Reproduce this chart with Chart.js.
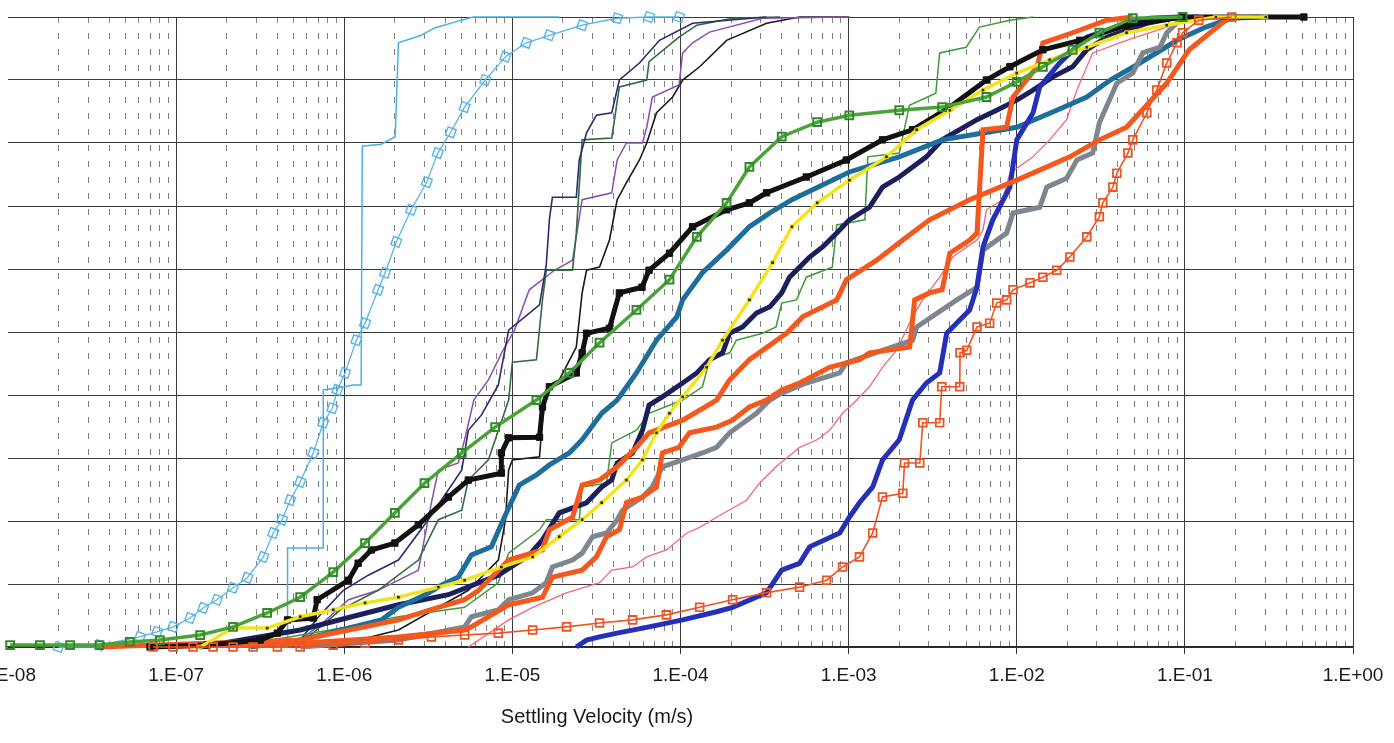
<!DOCTYPE html>
<html>
<head>
<meta charset="utf-8">
<script src="https://cdn.jsdelivr.net/npm/chart.js@4.4.1/dist/chart.umd.min.js"></script>
<style>
  html, body { margin: 0; padding: 0; background: #fff; overflow: hidden; }
  #wrap { position: relative; width: 1394px; height: 743px; }
</style>
</head>
<body>
<div id="wrap"><canvas id="settlingChart"></canvas></div>
<script>
// Settling velocity distributions: [velocity (m/s), cumulative %]
const velocityDecades = [-8, -7, -6, -5, -4, -3, -2, -1, 0];
const minorSteps = [2, 3, 4, 5, 6, 7, 8, 9];
const axisTitleText = 'Settling Velocity (m/s)';

const skyBlueStep = [[2.0e-8,0],[4.6e-7,0],[4.6e-7,15.7],[7.5e-7,15.7],[7.5e-7,40.8],[1.0e-6,41.3],[1.13e-6,41.6],[1.26e-6,41.6],[1.28e-6,79.5],[1.66e-6,79.8],[2.01e-6,81.0],[2.1e-6,95.9],[2.87e-6,97.1],[3.48e-6,98.3],[4.97e-6,99.5],[5.85e-6,100],[1.9e-5,100]];

const skyBlueSquares = [[2.0e-8,0],[3.5e-8,0.3],[6.1e-8,1.6],[7.7e-8,2.4],[9.6e-8,3.2],[1.21e-7,4.6],[1.45e-7,6.2],[1.75e-7,7.5],[2.18e-7,9.4],[2.65e-7,11.0],[3.3e-7,14.3],[3.78e-7,18.1],[4.27e-7,20.2],[4.77e-7,23.3],[5.47e-7,26.2],[6.54e-7,30.8],[7.5e-7,35.6],[8.5e-7,37.9],[9.1e-7,40.8],[1.01e-6,43.5],[1.18e-6,48.7],[1.33e-6,51.4],[1.59e-6,56.7],[1.75e-6,59.4],[2.04e-6,64.3],[2.5e-6,69.4],[3.1e-6,73.8],[3.6e-6,78.4],[4.3e-6,81.7],[5.2e-6,85.7],[6.9e-6,90.0],[9.1e-6,93.7],[1.21e-5,95.9],[1.66e-5,97.1],[2.6e-5,98.7],[4.2e-5,99.8],[6.5e-5,100],[9.8e-5,100]];

const greenSquares = [[1.03e-8,0.3],[1.55e-8,0.3],[2.34e-8,0.3],[3.5e-8,0.3],[5.3e-8,0.8],[8.0e-8,1.1],[1.39e-7,1.9],[2.18e-7,3.2],[3.48e-7,5.4],[5.47e-7,7.9],[8.6e-7,11.9],[1.33e-6,16.5],[2.0e-6,21.3],[3.0e-6,26.0],[5.0e-6,30.8],[7.9e-6,34.9],[1.39e-5,39.2],[2.18e-5,43.5],[3.3e-5,48.3],[5.47e-5,53.5],[8.6e-5,58.3],[1.25e-4,65.1],[1.88e-4,70.5],[2.57e-4,76.2],[4.0e-4,81.0],[6.5e-4,83.3],[1.01e-3,84.4],[2.0e-3,85.2],[3.6e-3,85.7],[6.6e-3,87.3],[1.0e-2,89.7],[1.43e-2,92.1],[2.15e-2,94.8],[3.1e-2,97.5],[4.9e-2,99.8],[9.7e-2,100]];

const blackSquares = [[7.0e-8,0],[1.53e-7,0.3],[3.16e-7,1.1],[4.0e-7,2.2],[4.6e-7,4.3],[6.54e-7,4.6],[6.9e-7,7.5],[1.06e-6,10.6],[1.21e-6,13.3],[1.45e-6,15.4],[2.0e-6,16.5],[2.76e-6,19.4],[4.16e-6,23.8],[5.47e-6,26.5],[8.6e-6,27.6],[8.6e-6,30.8],[9.5e-6,33.2],[1.45e-5,33.3],[1.51e-5,38.1],[1.66e-5,41.3],[2.4e-5,43.5],[2.6e-5,46.7],[2.76e-5,49.8],[3.78e-5,50.6],[4.33e-5,56.2],[5.9e-5,57.1],[6.5e-5,59.8],[8.6e-5,62.5],[1.18e-4,66.7],[1.88e-4,69.4],[2.57e-4,70.5],[3.25e-4,72.1],[5.6e-4,74.6],[9.7e-4,77.3],[1.59e-3,80.5],[2.4e-3,82.1],[4.0e-3,85.7],[6.6e-3,90.0],[9.1e-3,92.1],[1.43e-2,94.8],[2.37e-2,96.3],[4.5e-2,98.7],[9.7e-2,100],[0.51,100]];

const navyThin = [[3.63e-7,0],[5.47e-7,1.1],[7.2e-7,5.1],[9.9e-7,9.0],[1.39e-6,11.4],[2.1e-6,13.8],[3.16e-6,20.2],[5.0e-6,28.1],[5.47e-6,34.4],[6.54e-6,36.8],[8.25e-6,41.6],[9.5e-6,50.3],[1.45e-5,54.3],[1.59e-5,60.6],[1.66e-5,67.8],[1.73e-5,71.4],[2.4e-5,71.4],[2.5e-5,77.3],[2.76e-5,81.6],[3.16e-5,84.4],[3.9e-5,84.8],[4.33e-5,90.0],[5.7e-5,92.7],[7.5e-5,96.3],[1.18e-4,99.0],[3.25e-4,100]];

const darkGreenThin = [[4.16e-7,0],[6.3e-7,1.9],[9.5e-7,5.9],[1.59e-6,9.0],[2.76e-6,13.8],[3.63e-6,20.2],[5.0e-6,21.7],[5.47e-6,26.5],[7.2e-6,29.7],[9.5e-6,39.2],[1.0e-5,45.2],[1.39e-5,45.6],[1.51e-5,55.1],[1.59e-5,59.8],[2.28e-5,59.8],[2.4e-5,65.7],[2.6e-5,80.5],[3.9e-5,80.8],[4.33e-5,88.9],[6.3e-5,90.0],[6.5e-5,92.9],[9.8e-5,96.8],[1.25e-4,98.7],[2.04e-4,99.8],[3.9e-4,100]];

const violetThin = [[4.77e-7,0],[7.2e-7,3.5],[1.06e-6,7.5],[1.59e-6,9.0],[2.76e-6,12.2],[3.3e-6,22.9],[3.63e-6,28.1],[4.77e-6,29.2],[5.2e-6,32.9],[5.9e-6,39.2],[7.2e-6,42.4],[8.8e-6,47.1],[1.03e-5,50.3],[1.26e-5,56.7],[1.78e-5,59.8],[2.28e-5,61.4],[2.6e-5,71.0],[3.9e-5,72.1],[4.2e-5,77.3],[4.77e-5,80.0],[5.94e-5,80.0],[6.3e-5,82.5],[6.8e-5,87.3],[9.8e-5,89.2],[1.03e-4,94.3],[1.18e-4,95.9],[1.49e-4,97.6],[3.08e-4,99.8],[1.01e-3,100]];

const blackThin = [[8.25e-7,0],[2.1e-6,2.7],[5.47e-6,9.0],[8.25e-6,13.8],[9.1e-6,20.2],[9.5e-6,28.1],[1.0e-5,29.7],[1.45e-5,30.2],[1.51e-5,36.0],[1.59e-5,40.8],[1.9e-5,42.4],[2.4e-5,47.6],[2.6e-5,56.2],[2.76e-5,59.8],[3.3e-5,60.3],[3.78e-5,64.6],[4.2e-5,71.0],[4.77e-5,73.7],[5.7e-5,77.3],[6.3e-5,80.0],[7.2e-5,84.8],[8.98e-5,87.3],[1.03e-4,90.0],[1.3e-4,92.1],[1.88e-4,96.3],[3.25e-4,99.0],[5.11e-4,100],[1.01e-3,100]];

const steelBlue = [[2.76e-7,0],[5.47e-7,1.1],[1.06e-6,3.0],[1.66e-6,4.3],[2.1e-6,6.3],[3.03e-6,8.3],[3.78e-6,9.8],[4.77e-6,11.1],[5.7e-6,14.6],[7.5e-6,15.9],[9.1e-6,21.0],[1.1e-5,25.7],[1.39e-5,27.3],[1.66e-5,28.9],[2.18e-5,30.8],[2.6e-5,32.9],[3.4e-5,37.1],[4.2e-5,39.2],[5.47e-5,43.5],[7.2e-5,48.7],[9.5e-5,52.4],[1.03e-4,55.1],[1.35e-4,59.4],[1.88e-4,63.0],[2.57e-4,66.7],[3.4e-4,68.9],[4.6e-4,71.0],[1.01e-3,75.4],[2.0e-3,77.8],[3.6e-3,80.5],[6.3e-3,81.6],[1.0e-2,82.5],[1.73e-2,85.2],[2.61e-2,87.3],[3.6e-2,90.0],[5.4e-2,92.7],[8.98e-2,96.3],[0.133,98.4],[0.19,99.8],[0.276,100]];

const yellowDotted = [[1.39e-7,0],[2.18e-7,3.0],[3.48e-7,3.0],[5.47e-7,4.8],[8.6e-7,5.9],[1.33e-6,7.0],[2.1e-6,7.9],[3.63e-6,9.5],[5.2e-6,10.6],[8.6e-6,12.7],[1.32e-5,14.3],[1.9e-5,17.5],[2.6e-5,20.2],[3.4e-5,22.9],[4.77e-5,26.5],[5.94e-5,29.7],[7.2e-5,34.0],[8.6e-5,37.1],[1.03e-4,39.7],[1.43e-4,44.4],[1.78e-4,48.7],[2.57e-4,55.1],[3.53e-4,61.0],[4.6e-4,66.7],[6.5e-4,70.5],[1.01e-3,74.1],[1.68e-3,77.8],[2.54e-3,82.1],[4.0e-3,85.2],[6.3e-3,88.4],[1.0e-2,91.1],[1.57e-2,93.2],[2.61e-2,95.2],[4.5e-2,97.5],[7.8e-2,98.7],[0.153,100],[0.303,100]];

const navyThick = [[1.39e-7,0],[5.47e-7,2.7],[2.1e-6,6.7],[4.16e-6,8.3],[8.25e-6,11.4],[1.26e-5,14.6],[1.51e-5,17.0],[1.9e-5,21.3],[2.76e-5,22.9],[3.4e-5,25.4],[3.9e-5,26.5],[4.2e-5,29.2],[5.19e-5,30.8],[5.94e-5,34.4],[6.5e-5,38.4],[7.8e-5,39.7],[1.03e-4,41.9],[1.25e-4,43.5],[1.49e-4,45.6],[1.78e-4,46.7],[1.96e-4,49.8],[2.34e-4,50.8],[2.83e-4,53.0],[3.4e-4,54.0],[4.0e-4,56.2],[4.45e-4,58.7],[5.11e-4,60.3],[5.86e-4,61.9],[7.0e-4,63.5],[8.5e-4,65.7],[1.01e-3,67.8],[1.33e-3,69.8],[1.59e-3,73.0],[2.0e-3,74.6],[2.9e-3,77.8],[3.6e-3,80.5],[5.8e-3,83.7],[7.6e-3,85.2],[1.0e-2,86.8],[1.25e-2,88.4],[1.64e-2,90.5],[2.15e-2,92.1],[2.61e-2,94.8],[3.43e-2,96.8],[4.5e-2,97.9],[5.94e-2,99.0],[8.5e-2,99.8],[0.121,100]];

const greenThin = [[2.1e-7,0],[8.25e-7,2.7],[2.1e-6,4.8],[5.2e-6,6.3],[8.25e-6,10.2],[9.5e-6,14.9],[1.45e-5,18.6],[1.59e-5,20.2],[2.5e-5,20.2],[2.6e-5,25.4],[3.63e-5,26.0],[3.9e-5,32.4],[5.47e-5,34.4],[6.5e-5,37.1],[1.03e-4,39.2],[1.35e-4,41.3],[1.49e-4,45.6],[1.96e-4,46.7],[2.15e-4,48.7],[3.08e-4,49.8],[3.7e-4,50.8],[4.0e-4,54.6],[4.9e-4,55.1],[5.6e-4,58.7],[8.0e-4,60.3],[8.5e-4,67.0],[1.25e-3,67.8],[1.3e-3,77.8],[2.0e-3,78.4],[2.3e-3,86.0],[3.3e-3,87.9],[3.48e-3,94.3],[5.0e-3,95.2],[6.0e-3,98.4],[9.1e-3,99.5],[1.25e-2,100]];

const orangeUpper = [[3.5e-8,0],[5.47e-7,1.1],[2.1e-6,4.3],[3.63e-6,6.3],[5.2e-6,7.5],[6.3e-6,9.0],[9.5e-6,13.8],[1.51e-5,15.4],[1.66e-5,18.6],[2.28e-5,20.6],[2.6e-5,25.7],[3.3e-5,26.5],[4.2e-5,28.6],[5.47e-5,31.7],[6.5e-5,34.0],[1.03e-4,36.0],[1.64e-4,39.2],[1.96e-4,42.4],[2.57e-4,45.6],[4.27e-4,49.8],[5.33e-4,52.4],[8.5e-4,55.1],[9.7e-4,58.3],[1.47e-3,61.4],[2.1e-3,64.6],[3.03e-3,67.8],[5.25e-3,71.0],[1.0e-2,74.1],[2.07e-2,77.8],[3.1e-2,80.5],[4.5e-2,82.5],[7.8e-2,89.5],[0.106,94.8],[0.175,99.5],[0.21,100]];

const orangeLower = [[7.0e-8,0],[5.47e-7,0.6],[2.1e-6,1.6],[5.2e-6,2.7],[5.7e-6,3.2],[9.5e-6,6.7],[1.51e-5,7.9],[1.73e-5,11.1],[2.6e-5,12.2],[3.16e-5,14.3],[3.63e-5,17.5],[4.33e-5,18.6],[4.77e-5,22.9],[5.94e-5,23.8],[7.2e-5,25.4],[7.8e-5,30.8],[9.8e-5,31.7],[1.13e-4,34.0],[1.64e-4,34.9],[2.04e-4,36.0],[2.57e-4,38.1],[3.25e-4,39.2],[4.0e-4,40.8],[5.11e-4,41.9],[7.7e-4,44.4],[1.16e-3,45.6],[1.33e-3,46.7],[2.31e-3,47.6],[2.47e-3,55.1],[3.03e-3,56.2],[3.6e-3,56.7],[4.0e-3,62.5],[5.25e-3,64.6],[5.8e-3,65.7],[6.3e-3,82.1],[8.7e-3,82.5],[9.5e-3,87.3],[1.32e-2,92.1],[1.43e-2,95.9],[2.15e-2,97.5],[3.43e-2,99.5],[4.9e-2,100]];

const greyThick = [[5.47e-7,0],[2.1e-6,1.1],[5.2e-6,3.2],[5.7e-6,4.8],[8.25e-6,5.9],[9.5e-6,7.5],[1.32e-5,8.6],[1.59e-5,10.2],[1.73e-5,12.7],[2.28e-5,13.8],[2.6e-5,14.9],[3.0e-5,17.5],[3.63e-5,18.1],[4.2e-5,20.2],[4.52e-5,21.7],[5.94e-5,23.8],[6.8e-5,25.4],[7.8e-5,28.6],[1.03e-4,29.7],[1.35e-4,30.8],[1.64e-4,31.7],[1.96e-4,34.0],[2.83e-4,37.1],[3.4e-4,39.2],[4.0e-4,40.3],[5.6e-4,41.9],[8.84e-4,43.5],[9.7e-4,45.1],[1.59e-3,47.1],[2.4e-3,48.7],[2.54e-3,50.8],[4.4e-3,55.1],[5.8e-3,57.1],[6.3e-3,63.0],[8.7e-3,65.7],[9.5e-3,68.9],[1.37e-2,69.8],[1.51e-2,73.0],[1.98e-2,74.4],[2.28e-2,77.3],[2.83e-2,78.4],[3.1e-2,83.2],[3.94e-2,89.5],[4.9e-2,91.1],[5.62e-2,94.3],[7.1e-2,95.2],[7.8e-2,97.5],[9.35e-2,99.5],[0.121,100]];

const pinkThin = [[5.47e-6,0],[9.5e-6,4.3],[1.32e-5,6.3],[2.1e-5,8.6],[3.3e-5,10.2],[3.9e-5,12.2],[5.19e-5,12.7],[6.3e-5,14.3],[8.25e-5,15.4],[1.09e-4,18.1],[1.3e-4,19.0],[1.64e-4,20.6],[2.47e-4,23.3],[2.95e-4,26.0],[3.7e-4,28.6],[5.11e-4,31.7],[6.5e-4,32.9],[7.7e-4,34.4],[9.2e-4,37.1],[1.12e-3,39.2],[1.33e-3,41.3],[1.59e-3,44.4],[1.93e-3,47.1],[2.4e-3,52.4],[2.76e-3,55.1],[3.48e-3,58.7],[4.16e-3,61.9],[5.8e-3,64.6],[6.3e-3,66.2],[6.6e-3,69.4],[8.25e-3,71.0],[9.1e-3,75.2],[1.25e-2,77.8],[1.57e-2,80.5],[1.98e-2,83.7],[2.28e-2,88.4],[2.61e-2,92.1],[2.83e-2,94.3],[4.5e-2,96.3],[7.8e-2,98.4],[0.121,100]];

const royalBlue = [[2.4e-5,0],[2.76e-5,1.1],[3.3e-5,1.6],[4.2e-5,2.2],[6.5e-5,3.2],[1.03e-4,4.3],[1.64e-4,5.6],[2.04e-4,6.3],[3.25e-4,8.6],[4.0e-4,12.2],[5.11e-4,13.3],[5.86e-4,15.9],[8.84e-4,18.1],[1.01e-3,20.6],[1.16e-3,22.9],[1.39e-3,25.4],[1.59e-3,29.7],[2.0e-3,32.9],[2.4e-3,39.2],[2.9e-3,41.9],[3.48e-3,43.5],[3.83e-3,49.8],[5.25e-3,53.5],[5.8e-3,57.1],[6.3e-3,63.5],[7.2e-3,67.8],[9.1e-3,73.0],[1.0e-2,80.5],[1.25e-2,84.8],[1.37e-2,88.9],[1.8e-2,92.7],[2.61e-2,96.8],[4.5e-2,99.0],[6.2e-2,99.8],[9.35e-2,100]];

const orangeSquares = [[7.3e-8,0],[9.6e-8,0],[1.26e-7,0],[1.66e-7,0],[2.18e-7,0],[2.87e-7,0],[4.0e-7,0],[5.47e-7,0],[8.6e-7,0.3],[1.33e-6,0.6],[2.1e-6,1.1],[3.3e-6,1.6],[5.2e-6,1.9],[8.25e-6,2.2],[1.32e-5,2.7],[2.1e-5,3.2],[3.3e-5,3.8],[5.19e-5,4.3],[8.25e-5,5.1],[1.3e-4,6.3],[2.04e-4,7.5],[3.25e-4,8.6],[5.11e-4,9.5],[7.4e-4,10.6],[9.2e-4,12.7],[1.16e-3,14.3],[1.39e-3,18.1],[1.59e-3,23.8],[2.1e-3,24.4],[2.15e-3,29.2],[2.65e-3,29.2],[2.76e-3,35.6],[3.48e-3,35.6],[3.58e-3,41.3],[4.58e-3,41.3],[4.6e-3,46.7],[5.04e-3,47.1],[5.8e-3,50.8],[6.9e-3,51.4],[7.6e-3,54.6],[8.7e-3,55.1],[9.5e-3,56.7],[1.2e-2,57.8],[1.43e-2,58.7],[1.73e-2,59.8],[2.07e-2,61.9],[2.61e-2,65.1],[3.1e-2,68.3],[3.25e-2,70.5],[3.73e-2,73.0],[3.94e-2,75.2],[4.58e-2,78.4],[4.9e-2,80.5],[5.94e-2,84.8],[6.8e-2,88.4],[7.8e-2,92.7],[8.98e-2,95.9],[9.7e-2,97.5],[0.121,99.5],[0.19,100]];

// log axis ticks: every decade plus 2..9 minor steps
const velocityTicks = [];
velocityDecades.forEach(e => {
  velocityTicks.push(parseFloat('1e' + e));
  if (e < 0) minorSteps.forEach(m => velocityTicks.push(parseFloat(m + 'e' + e)));
});

function isDecade(v) {
  const e = Math.round(Math.log10(v));
  return Math.abs(v - Math.pow(10, e)) < Math.pow(10, e) * 1e-9;
}

function decadeLabel(v) {
  const e = Math.round(Math.log10(v));
  return '1.E' + (e < 0 ? '-' : '+') + String(Math.abs(e)).padStart(2, '0');
}

const toPoints = pairs => pairs.map(([x, y]) => ({ x, y }));

function series(label, pairs, color, width, extra) {
  return Object.assign({
    label: label,
    data: toPoints(pairs),
    borderColor: color,
    backgroundColor: color,
    borderWidth: width,
    pointRadius: 0,
    tension: 0,
    fill: false,
    clip: false
  }, extra || {});
}

function squares(color, radius, fillColor, borderWidth, rotation) {
  return {
    pointStyle: 'rect',
    pointRadius: radius,
    pointBorderColor: color,
    pointBackgroundColor: fillColor,
    pointBorderWidth: borderWidth,
    pointRotation: rotation || 0
  };
}

// first dataset ends up on top
const datasets = [
  series('Orange squares', orangeSquares, '#ee5324', 1.6, squares('#ee5324', 5.5, 'rgba(255,255,255,0)', 1.8)),
  series('Green squares', greenSquares, '#4aa336', 3.5, squares('#2f8a2c', 5.5, 'rgba(255,255,255,0)', 2)),
  series('Yellow', yellowDotted, '#f2e41b', 3.5, squares('#f2e41b', 2.6, '#2a2a2a', 1)),
  series('Black squares', blackSquares, '#111111', 5, squares('#111111', 4.5, '#111111', 1)),
  series('Orange 1', orangeUpper, '#f4581c', 5),
  series('Orange 2', orangeLower, '#f4581c', 5),
  series('Blue', royalBlue, '#2430b8', 5),
  series('Grey', greyThick, '#7e868f', 5),
  series('Steel blue', steelBlue, '#1d6e9c', 5),
  series('Navy', navyThick, '#1c1f5e', 5),
  series('Pink', pinkThin, '#f0687c', 1.3),
  series('Green', greenThin, '#3f9b35', 1.5),
  series('Navy thin', navyThin, '#2e2a72', 1.6),
  series('Dark green thin', darkGreenThin, '#2f6d3a', 1.6),
  series('Violet thin', violetThin, '#8b4fb3', 1.5),
  series('Black thin', blackThin, '#1a1a1a', 1.6),
  series('Sky blue squares', skyBlueSquares, '#58b4e8', 1.3, squares('#58b4e8', 6, 'rgba(255,255,255,0)', 1.4, 20)),
  series('Sky blue', skyBlueStep, '#4bb0ea', 1.5)
];

const axisTitle = {
  id: 'axisTitle',
  afterDraw(chart) {
    const { ctx, chartArea } = chart;
    ctx.save();
    ctx.font = '20px "Liberation Sans", Arial, sans-serif';
    ctx.fillStyle = '#1a1a1a';
    ctx.textAlign = 'center';
    ctx.textBaseline = 'middle';
    ctx.fillText(axisTitleText, chartArea.left + 589, chartArea.bottom + 70);
    ctx.restore();
  }
};

new Chart(document.getElementById('settlingChart'), {
  type: 'line',
  data: { datasets: datasets },
  plugins: [axisTitle],
  options: {
    responsive: true,
    maintainAspectRatio: false,
    animation: false,
    devicePixelRatio: 1,
    events: [],
    layout: { padding: { left: 8, right: 41, top: 17, bottom: 0 } },
    plugins: {
      legend: { display: false },
      tooltip: { enabled: false }
    },
    scales: {
      x: {
        type: 'logarithmic',
        min: 1e-8,
        max: 1,
        afterBuildTicks: scale => {
          scale.ticks = velocityTicks.map(v => ({ value: v, major: isDecade(v) }));
        },
        afterFit: scale => {
          scale.height = 96;
          scale.paddingLeft = 0;
          scale.paddingRight = 0;
        },
        ticks: {
          autoSkip: false,
          maxRotation: 0,
          padding: 10,
          color: '#1a1a1a',
          font: { family: '"Liberation Sans", Arial, sans-serif', size: 19 },
          callback: value => isDecade(value) ? decadeLabel(value) : ''
        },
        grid: {
          lineWidth: 1,
          tickLength: 7,
          color: ctx => {
            if (!ctx.tick) return '#333';
            if (ctx.tick.value < 1.0001e-8) return 'rgba(0,0,0,0)';
            return isDecade(ctx.tick.value) ? '#3a3a3a' : '#858585';
          },
          tickColor: ctx => (ctx.tick && isDecade(ctx.tick.value) && ctx.tick.value > 1.0001e-8) ? '#333' : 'rgba(0,0,0,0)',
          tickBorderDash: []
        },
        border: {
          display: true,
          color: '#222',
          width: 1.5,
          dash: ctx => (ctx.tick && !isDecade(ctx.tick.value)) ? [6, 10] : []
        }
      },
      y: {
        min: 0,
        max: 100,
        afterFit: scale => { scale.width = 0; },
        ticks: { display: false, stepSize: 10 },
        grid: { color: '#3a3a3a', lineWidth: 1, drawTicks: false },
        border: { display: false }
      }
    }
  }
});
</script>
</body>
</html>
